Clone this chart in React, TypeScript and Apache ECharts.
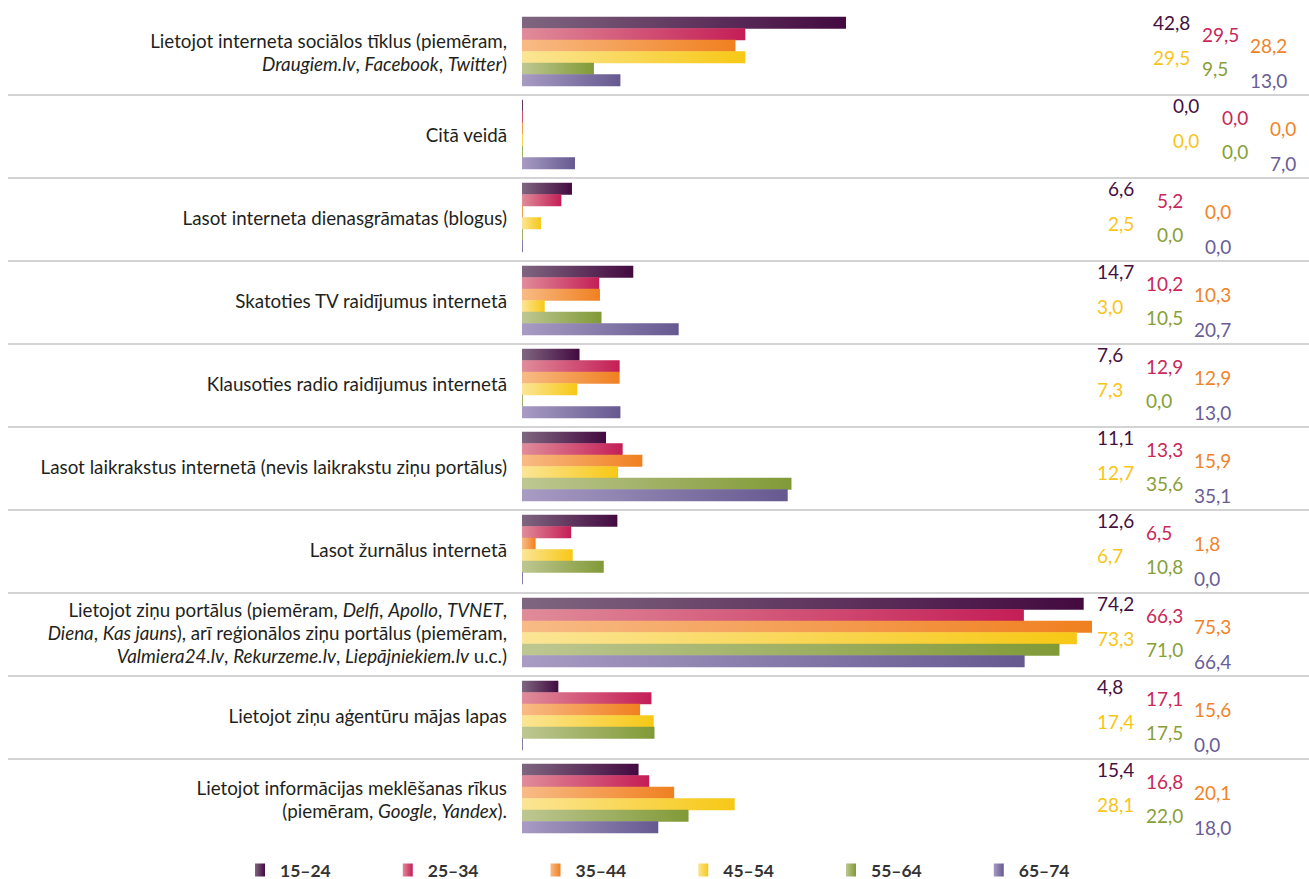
import React, { useEffect, useRef } from 'react';
import * as echarts from 'echarts';

const categories = [
  'Lietojot interneta sociālos tīklus (piemēram,\n{i|Draugiem.lv}, {i|Facebook}, {i|Twitter})',
  'Citā veidā',
  'Lasot interneta dienasgrāmatas (blogus)',
  'Skatoties TV raidījumus internetā',
  'Klausoties radio raidījumus internetā',
  'Lasot laikrakstus internetā (nevis laikrakstu ziņu portālus)',
  'Lasot žurnālus internetā',
  'Lietojot ziņu portālus (piemēram, {i|Delfi}, {i|Apollo}, {i|TVNET},\n{i|Diena}, {i|Kas jauns}), arī reģionālos ziņu portālus (piemēram,\n{i|Valmiera24.lv}, {i|Rekurzeme.lv}, {i|Liepājniekiem.lv} u.c.)',
  'Lietojot ziņu aģentūru mājas lapas',
  'Lietojot informācijas meklēšanas rīkus\n(piemēram, {i|Google}, {i|Yandex}).',
];

const ageGroups = ['15–24', '25–34', '35–44', '45–54', '55–64', '65–74'];

const v15_24 = [42.8, 0.0, 6.6, 14.7, 7.6, 11.1, 12.6, 74.2, 4.8, 15.4];
const v25_34 = [29.5, 0.0, 5.2, 10.2, 12.9, 13.3, 6.5, 66.3, 17.1, 16.8];
const v35_44 = [28.2, 0.0, 0.0, 10.3, 12.9, 15.9, 1.8, 75.3, 15.6, 20.1];
const v45_54 = [29.5, 0.0, 2.5, 3.0, 7.3, 12.7, 6.7, 73.3, 17.4, 28.1];
const v55_64 = [9.5, 0.0, 0.0, 10.5, 0.0, 35.6, 10.8, 71.0, 17.5, 22.0];
const v65_74 = [13.0, 7.0, 0.0, 20.7, 13.0, 35.1, 0.0, 66.4, 0.0, 18.0];

const seriesValues = [v15_24, v25_34, v35_44, v45_54, v55_64, v65_74];

// styling (not data)
const gradLight = ['#7f6680', '#e08c9a', '#f8bb86', '#fbe596', '#bec792', '#a89cc4'];
const gradDark = ['#430a40', '#c41e56', '#f08020', '#f7c815', '#819a37', '#655990'];
const labelColors = ['#45103f', '#c8285a', '#f0842a', '#f7c519', '#87a038', '#6a5d96'];

// label layout (pixel positions of the value-label columns per category)
const GRID_LEFT = 522;
const labelColumnStart = [1153, 1173, 1108, 1097, 1097, 1097, 1097, 1097, 1097, 1097];
const labelColumnOffset = [0, 49, 97, 0, 49, 97];

const FONT = 'Lato';
const CAT_FONT_SIZE = 18.8;

export default function App() {
  const ref = useRef<HTMLDivElement>(null);

  useEffect(() => {
    document.body.style.margin = '0';
    if (!ref.current) return;
    const chart = echarts.init(ref.current, undefined, { renderer: 'svg' });

    const series: any[] = seriesValues.map((vals, s) => ({
      name: ageGroups[s],
      type: 'bar',
      xAxisIndex: 0,
      yAxisIndex: 0,
      barWidth: 12,
      barGap: '-4%',
      barMinHeight: 1,
      itemStyle: {
        color: new echarts.graphic.LinearGradient(0, 0, 1, 0, [
          { offset: 0, color: gradLight[s] },
          { offset: 1, color: gradDark[s] },
        ]),
      },
      data: vals.map((v, i) => ({
        value: v,
        label: {
          position: [labelColumnStart[i] + labelColumnOffset[s] - GRID_LEFT, '50%'],
        },
      })),
      label: {
        show: true,
        align: 'left',
        verticalAlign: 'middle',
        color: labelColors[s],
        fontFamily: FONT,
        fontSize: 19,
        formatter: (p: any) => Number(p.value).toFixed(1).replace('.', ','),
      },
    }));

    // separators (decoration) via a second grid's category split lines
    series.push({
      type: 'bar',
      xAxisIndex: 1,
      yAxisIndex: 1,
      data: [],
      silent: true,
    });

    chart.setOption({
      animation: false,
      grid: [
        { left: GRID_LEFT, width: 757, top: 10, height: 830 },
        { left: 8, right: 0, top: 12, height: 830 },
      ],
      legend: {
        data: ageGroups,
        left: 250,
        top: 856,
        icon: 'rect',
        itemWidth: 10,
        itemHeight: 13,
        itemGap: 72,
        textStyle: {
          fontFamily: FONT,
          fontWeight: 'bold',
          fontSize: 17.5,
          color: '#333333',
          padding: [0, 0, 0, 10],
        },
      },
      xAxis: [
        { type: 'value', gridIndex: 0, min: 0, max: 100, show: false },
        { type: 'value', gridIndex: 1, min: 0, max: 100, show: false },
      ],
      yAxis: [
        {
          type: 'category',
          gridIndex: 0,
          inverse: true,
          data: categories,
          axisLine: { show: false },
          axisTick: { show: false },
          splitLine: { show: false },
          axisLabel: {
            margin: 15,
            align: 'right',
            fontFamily: FONT,
            fontSize: CAT_FONT_SIZE,
            lineHeight: 23,
            color: '#231f20',
            rich: {
              i: {
                fontStyle: 'italic',
                fontFamily: FONT,
                fontSize: CAT_FONT_SIZE,
                lineHeight: 23,
                color: '#231f20',
              },
            },
          },
        },
        {
          type: 'category',
          gridIndex: 1,
          inverse: true,
          data: categories.map((_, i) => String(i)),
          axisLine: { show: false },
          axisTick: { show: false },
          axisLabel: { show: false },
          splitLine: {
            show: true,
            showMinLine: false,
            showMaxLine: false,
            lineStyle: { color: '#c4c4c4', width: 1.5 },
          },
        },
      ],
      series,
    });

    return () => {
      chart.dispose();
    };
  }, []);

  return <div ref={ref} style={{ width: 1309, height: 879 }} />;
}
